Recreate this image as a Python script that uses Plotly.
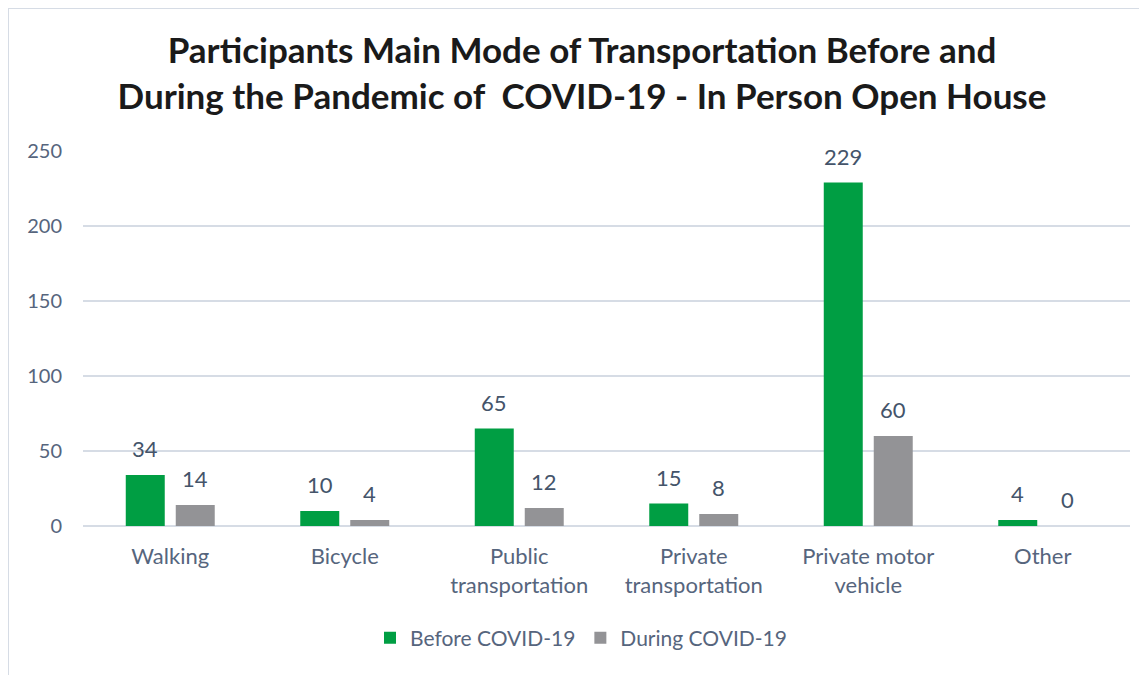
import plotly.graph_objects as go

categories = ["Walking", "Bicycle", "Public<br>transportation", "Private<br>transportation",
              "Private motor<br>vehicle", "Other"]
before = [34, 10, 65, 15, 229, 4]
during = [14, 4, 12, 8, 60, 0]
series_names = ["Before COVID-19", "During COVID-19"]
y_ticks = [0, 50, 100, 150, 200, 250]

GREEN = "#009E43"
GRAY = "#939396"
AXIS_TXT = "#56657D"
LABEL_TXT = "#44546A"
GRID = "#D6DCE5"

# page body adds an 8px offset; figure sized to fit the window
W, H = 1139, 667
L, R, T, B = 75, 17, 143, 149
pw, ph = W - L - R, H - T - B

fig = go.Figure()
fig.add_trace(go.Bar(x=categories, y=before, name=series_names[0], marker_color=GREEN,
                     marker_line=dict(width=0)))
fig.add_trace(go.Bar(x=categories, y=during, name=series_names[1], marker_color=GRAY,
                     marker_line=dict(width=0)))

ann = []
for vals, shift in ((before, -25), (during, 25)):
    for c, v in zip(categories, vals):
        ann.append(dict(x=c, y=v, xref="x", yref="y", text=str(v), showarrow=False,
                        xshift=shift, yshift=11, yanchor="bottom",
                        font=dict(family="Lato", size=22, color=LABEL_TXT)))

def px(x):
    return (x - L) / pw

def py(y):
    return (H - B - y) / ph

fig.update_layout(
    width=W, height=H,
    margin=dict(l=L, r=R, t=T, b=B, autoexpand=False),
    paper_bgcolor="white", plot_bgcolor="white",
    font=dict(family="Lato", size=20, color=AXIS_TXT),
    title=dict(text="<b>Participants Main Mode of Transportation Before and<br>During the Pandemic of \u00a0COVID-19 - In Person Open House</b>",
               x=574 / W, xanchor="center", y=1 - 55 / H, yanchor="top",
               font=dict(family="Lato", size=35, color="#1A1A1A")),
    barmode="group", bargap=0.427, bargroupgap=0.22,
    xaxis=dict(showgrid=False, showline=False, ticks="", automargin=False,
               ticklabelstandoff=15, tickfont=dict(size=22, color=AXIS_TXT)),
    yaxis=dict(range=[0, 250], tickvals=y_ticks, showgrid=True, gridcolor=GRID, gridwidth=2,
               zeroline=True, zerolinecolor=GRID, zerolinewidth=2, ticks="", automargin=False,
               ticklabelstandoff=20, tickfont=dict(size=20, color=AXIS_TXT)),
    legend=dict(orientation="h", x=px(573), xanchor="center", y=py(630), yanchor="middle",
                font=dict(size=21, color=AXIS_TXT), itemwidth=30, traceorder="normal"),
    annotations=ann,
    shapes=[dict(type="rect", xref="paper", yref="paper", x0=px(0), x1=px(W + 20),
                 y0=py(H + 20), y1=py(0), line=dict(color=GRID, width=2), fillcolor="rgba(0,0,0,0)",
                 layer="below")],
)

fig.write_html("out.html")
